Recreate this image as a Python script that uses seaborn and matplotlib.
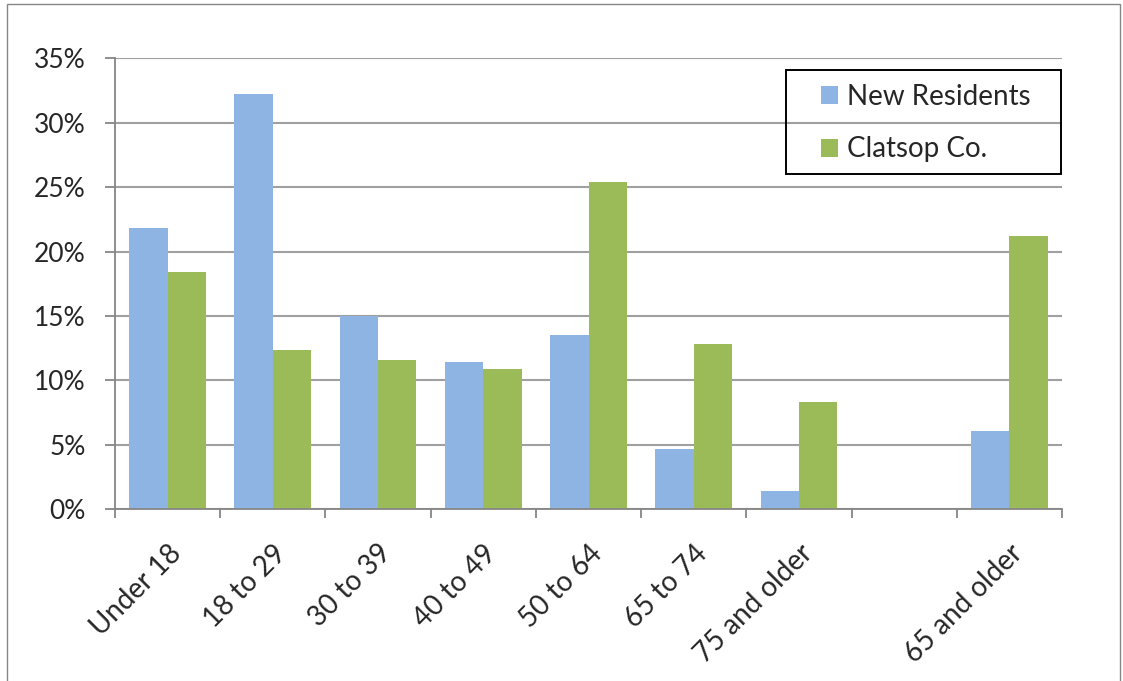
import numpy as np
import pandas as pd
import matplotlib
matplotlib.use("Agg")
import matplotlib.pyplot as plt
import matplotlib.transforms as mtrans
import seaborn as sns
from matplotlib.patches import Rectangle

# Age groups (blank slot separates the two groupings)
categories = ["Under 18", "18 to 29", "30 to 39", "40 to 49", "50 to 64",
              "65 to 74", "75 and older", " ", "65 and older"]
new_residents = [21.8, 32.2, 15.0, 11.4, 13.5, 4.7, 1.45, np.nan, 6.1]
clatsop = [18.4, 12.4, 11.6, 10.9, 25.4, 12.8, 8.3, np.nan, 21.2]
series_names = ["New Residents", "Clatsop Co."]
colors = ["#8EB4E3", "#9BBB59"]

df = pd.DataFrame({
    "group": categories * 2,
    "series": [series_names[0]] * len(categories) + [series_names[1]] * len(categories),
    "pct": new_residents + clatsop,
})

sns.set_style("white")
plt.rcParams["font.family"] = ["Lato", "DejaVu Sans"]

W, H = 1123, 681
fig = plt.figure(figsize=(W / 100, H / 100), dpi=100)
ax = fig.add_axes([115 / W, 1 - 509.3 / H, (1062 - 115) / W, (509.3 - 58.3) / H])

sns.barplot(data=df, x="group", y="pct", hue="series", order=categories,
            hue_order=series_names, palette=colors, width=0.73, gap=0,
            saturation=1, errorbar=None, ax=ax, edgecolor="none")

ax.set_ylim(0, 35)
ax.set_xlim(-0.5, len(categories) - 0.5)
ax.set_yticks(np.arange(0, 36, 5))
ax.set_yticklabels([f"{v}%" for v in range(0, 36, 5)], fontsize=19)
ax.yaxis.grid(True, color="#A0A0A0", linewidth=1.5)
ax.set_axisbelow(True)

# tick marks at category boundaries, labels drawn as rotated text
ax.set_xticks(np.arange(-0.5, len(categories), 1))
ax.set_xticklabels([""] * (len(categories) + 1))
ax.tick_params(axis="x", which="major", length=6.5, width=1.3, color="#868686",
               direction="out", bottom=True)
ax.tick_params(axis="y", length=7, width=1.3, color="#868686", direction="out",
               left=True, pad=14)

trans = mtrans.blended_transform_factory(ax.transData, ax.transAxes)
for i, lab in enumerate(categories):
    ax.text(i + 0.0, -0.068, lab.strip(), transform=trans, rotation=45,
            ha="right", va="top", rotation_mode="anchor", fontsize=20)

ax.set_xlabel("")
ax.set_ylabel("")
for side in ["top", "right"]:
    ax.spines[side].set_visible(False)
for side in ["left", "bottom"]:
    ax.spines[side].set_color("#868686")
    ax.spines[side].set_linewidth(1.3)

leg = ax.legend(loc="upper left", bbox_to_anchor=(821 / W, 1 - 84 / H),
                bbox_transform=fig.transFigure, fontsize=20, frameon=False,
                handlelength=0.62, handleheight=0.62, handletextpad=0.33,
                labelspacing=0.95, borderpad=0, borderaxespad=0)
leg.set_title(None)

# legend frame (fixed size like the original)
fig.patches.append(Rectangle((786 / W, 1 - 174 / H), (1061 - 786) / W, (174 - 70) / H,
                             transform=fig.transFigure, fill=False,
                             edgecolor="black", linewidth=1.4, zorder=5))

# outer chart border (bottom edge runs past the image)
fig.patches.append(Rectangle((7 / W, -10 / H), (1120 - 7) / W, (H + 6) / H,
                             transform=fig.transFigure, fill=False,
                             edgecolor="#868686", linewidth=1))

fig.savefig("out.png", dpi=100)
